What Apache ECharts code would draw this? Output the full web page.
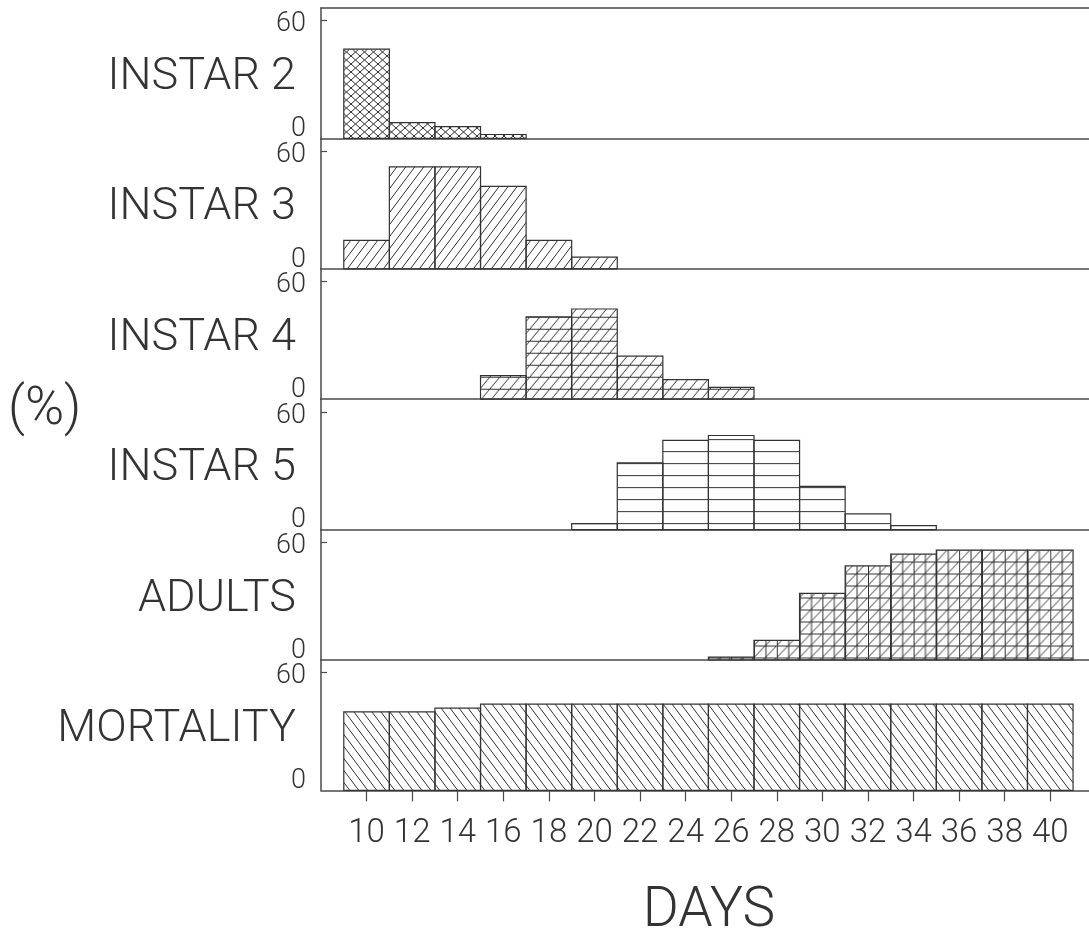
<!DOCTYPE html>
<html>
<head>
<meta charset="utf-8">
<script src="https://cdn.jsdelivr.net/npm/echarts@6/dist/echarts.min.js"></script>
<style>
  html, body { margin: 0; padding: 0; background: #fff; }
  #chart { width: 1089px; height: 935px; }
</style>
</head>
<body>
<div id="chart"></div>
<script>
// ---- data: percentage of individuals in each stage, by day ----
const panelNames = ['INSTAR 2', 'INSTAR 3', 'INSTAR 4', 'INSTAR 5', 'ADULTS', 'MORTALITY'];

const instar2Days = [10, 12, 14, 16];
const instar2Pct  = [45.5, 8, 6, 2];

const instar3Days = [10, 12, 14, 16, 18, 20];
const instar3Pct  = [14.5, 52, 52, 42, 14.5, 6];

const instar4Days = [16, 18, 20, 22, 24, 26];
const instar4Pct  = [12, 42, 46, 22, 10, 6];

const instar5Days = [20, 22, 24, 26, 28, 30, 32, 34];
const instar5Pct  = [3, 34, 45.5, 48, 45.5, 22, 8, 2];

const adultDays = [26, 28, 30, 32, 34, 36, 38, 40];
const adultPct  = [1.5, 10, 34, 48, 54, 56, 56, 56];

const mortalityDays = [10, 12, 14, 16, 18, 20, 22, 24, 26, 28, 30, 32, 34, 36, 38, 40];
const mortalityPct  = [40, 40, 42, 44, 44, 44, 44, 44, 44, 44, 44, 44, 44, 44, 44, 44];

const dayTicks = [10, 12, 14, 16, 18, 20, 22, 24, 26, 28, 30, 32, 34, 36, 38, 40];
const pctTicks = [0, 60];

// ---- layout / style ----
const INK = '#333';
const AXIS = '#4a4a4a';
const FONT = 'Roboto, "Liberation Sans", sans-serif';
const X_MIN = 8, X_MAX = 41.7;
const Y_MAX = 66.5;
const GRID_LEFT = 321, GRID_TOP0 = 8, PANEL_H = 130.4;
const CHART_W = 1089;
const pxPerDay = (CHART_W - GRID_LEFT) / (X_MAX - X_MIN);
const baseline = i => GRID_TOP0 + PANEL_H * (i + 1);

// hatch tile drawn on a small canvas and used as a repeating fill
function hatchTile(w, h, o) {
  const c = document.createElement('canvas');
  c.width = w; c.height = h;
  const g = c.getContext('2d');
  g.strokeStyle = INK;
  g.lineWidth = 1;
  g.beginPath();
  if (o.horiz) { g.moveTo(0, 0.5); g.lineTo(w, 0.5); }
  if (o.vert) o.vert.forEach(x => { g.moveTo(x, 0); g.lineTo(x, h); });
  if (o.fwd) {            // "/" lines
    const s = o.fwd;
    for (let x0 = -2 * s; x0 <= w + 2 * s; x0 += s) { g.moveTo(x0 - s, 2 * h); g.lineTo(x0 + 2 * s, -h); }
  }
  if (o.back) {           // "\" lines
    const s = o.back;
    for (let x0 = -2 * s; x0 <= w + 2 * s; x0 += s) { g.moveTo(x0 - s, -h); g.lineTo(x0 + 2 * s, 2 * h); }
  }
  g.stroke();
  return c;
}

const fills = [
  { image: hatchTile(9, 8, { fwd: 9, back: 9 }), repeat: 'repeat' },
  { image: hatchTile(9, 12, { fwd: 9 }), repeat: 'repeat' },
  { image: hatchTile(10, 12, { fwd: 10, horiz: true }), repeat: 'repeat', y: baseline(2) - 10.5 },
  { image: hatchTile(8, 12, { horiz: true }), repeat: 'repeat', y: baseline(3) - 6.5 },
  { image: hatchTile(46, 12, { vert: [0.5, 12, 23.5, 35], fwd: 11.5, horiz: true }), repeat: 'repeat',
    x: GRID_LEFT + (9 - X_MIN) * pxPerDay, y: baseline(4) - 2.5, scaleX: 2 * pxPerDay / 46, scaleY: 1 },
  { image: hatchTile(9, 12, { back: 9 }), repeat: 'repeat' }
];

const panelData = [
  [instar2Days, instar2Pct],
  [instar3Days, instar3Pct],
  [instar4Days, instar4Pct],
  [instar5Days, instar5Pct],
  [adultDays, adultPct],
  [mortalityDays, mortalityPct]
];

// each bar spans two days, centred on its day
function barRenderer(fill) {
  return function (params, api) {
    const d = api.value(0), v = api.value(1);
    const a = api.coord([d - 1, v]);
    const b = api.coord([d + 1, 0]);
    return {
      type: 'rect',
      shape: { x: a[0], y: a[1], width: b[0] - a[0], height: b[1] - a[1] },
      style: { fill: fill, stroke: INK, lineWidth: 1.2 }
    };
  };
}

const lineStyle = { color: AXIS, width: 1.5 };
const grids = [], xAxes = [], yAxes = [], series = [];
const nameFont = { fontFamily: FONT, fontWeight: 300, fontSize: 45, color: INK };

panelNames.forEach((name, i) => {
  const last = i === panelNames.length - 1;
  grids.push({ left: GRID_LEFT, right: 0, top: GRID_TOP0 + PANEL_H * i, height: PANEL_H });
  xAxes.push({
    gridIndex: i, type: 'value', min: X_MIN, max: X_MAX, position: 'bottom',
    axisLine: { show: true, onZero: false, lineStyle: lineStyle },
    axisTick: last ? { show: true, length: 11, customValues: dayTicks, lineStyle: { color: AXIS, width: 1.2 } } : { show: false },
    axisLabel: last ? { show: true, customValues: dayTicks, margin: 27, color: INK, fontFamily: FONT, fontWeight: 300, fontSize: 33 } : { show: false },
    splitLine: { show: false }
  });
  yAxes.push({
    gridIndex: i, type: 'value', min: 0, max: Y_MAX,
    name: '{n|' + name + '}', nameLocation: 'middle', nameRotate: 0, nameGap: 25, nameMoveOverlap: false,
    nameTextStyle: Object.assign({ align: 'right', verticalAlign: 'middle',
      rich: { n: Object.assign({ padding: [9, 0, 0, 0] }, nameFont) } }, nameFont),
    axisLine: { show: true, lineStyle: lineStyle },
    axisTick: { show: true, inside: true, length: 6, customValues: [60], lineStyle: { color: AXIS, width: 1.2 } },
    axisLabel: {
      customValues: pctTicks, margin: 15, color: INK, fontFamily: FONT, fontWeight: 300, fontSize: 27,
      formatter: v => (v === 0 ? '{lo|0}' : '{hi|' + v + '}'),
      rich: {
        lo: { padding: [0, 0, 18, 0], color: INK, fontFamily: FONT, fontWeight: 300, fontSize: 27 },
        hi: { padding: [8, 0, 0, 0], color: INK, fontFamily: FONT, fontWeight: 300, fontSize: 27 }
      }
    },
    splitLine: { show: false }
  });
  const [days, pct] = panelData[i];
  series.push({
    type: 'custom', xAxisIndex: i, yAxisIndex: i,
    renderItem: barRenderer(fills[i]),
    data: days.map((d, k) => [d, pct[k]])
  });
});

// top frame line of the first panel
xAxes.push({
  gridIndex: 0, type: 'value', min: X_MIN, max: X_MAX, position: 'top',
  axisLine: { show: true, onZero: false, lineStyle: lineStyle },
  axisTick: { show: false }, axisLabel: { show: false }, splitLine: { show: false }
});

const chart = echarts.init(document.getElementById('chart'), null, { renderer: 'canvas' });
chart.setOption({
  backgroundColor: '#fff',
  animation: false,
  grid: grids,
  xAxis: xAxes,
  yAxis: yAxes,
  series: series,
  graphic: [
    { type: 'text', x: 8, y: 411, style: { text: '(%)', fill: INK, font: '300 53px ' + FONT, verticalAlign: 'middle' } },
    { type: 'text', x: 709, y: 912, style: { text: 'DAYS', fill: INK, font: '300 55px ' + FONT, align: 'center', verticalAlign: 'middle' } }
  ]
});
</script>
</body>
</html>
